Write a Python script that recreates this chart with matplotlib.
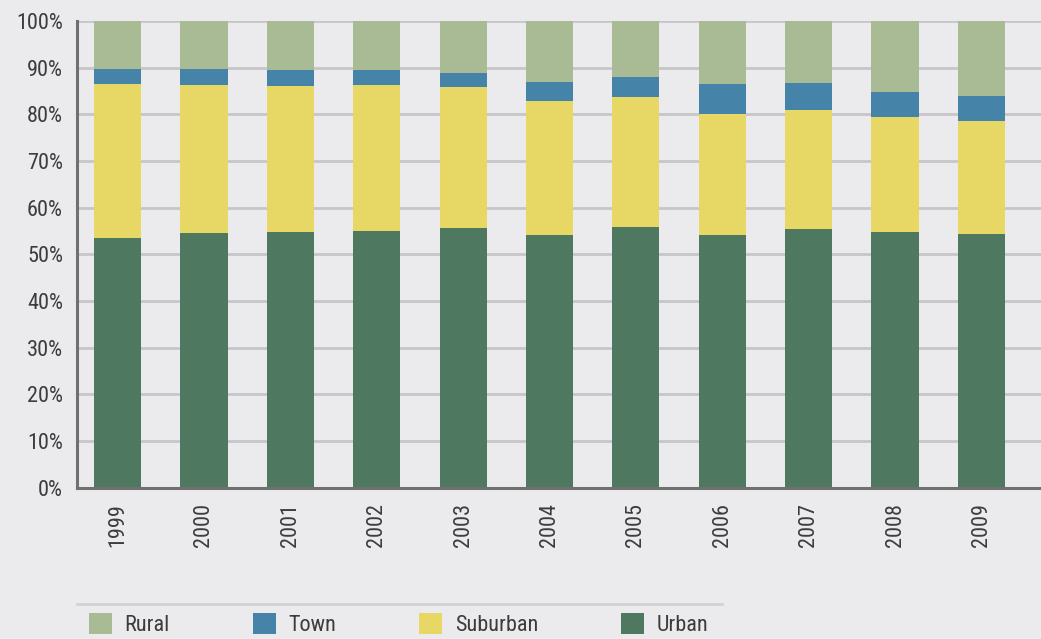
import numpy as np
import matplotlib.pyplot as plt
from matplotlib.lines import Line2D

plt.rcParams['font.family'] = ['Roboto Condensed', 'DejaVu Sans']

years = ["1999", "2000", "2001", "2002", "2003", "2004", "2005", "2006", "2007", "2008", "2009"]
# cumulative boundaries (percent)
urban = np.array([53.5, 54.6, 54.8, 55.0, 55.6, 54.2, 55.9, 54.1, 55.4, 54.8, 54.3])
upto_suburban = np.array([86.5, 86.3, 86.1, 86.3, 85.9, 82.9, 83.7, 80.1, 80.9, 79.4, 78.6])
upto_town = np.array([89.7, 89.7, 89.5, 89.5, 88.9, 86.9, 88.0, 86.5, 86.7, 84.8, 83.9])

suburban = upto_suburban - urban
town = upto_town - upto_suburban
rural = 100 - upto_town

bg = "#ebebed"
fig = plt.figure(figsize=(10.41, 6.39), dpi=100, facecolor=bg)
ax = fig.add_axes([77/1041, 1-487.7/639, 1-77/1041, (487.7-21)/639])
ax.set_facecolor(bg)

x = np.arange(len(years))
w = 0.545
b1 = ax.bar(x, urban/100, w, color="#4f7861", label="Urban", zorder=3)
b2 = ax.bar(x, suburban/100, w, bottom=urban/100, color="#e7d765", label="Suburban", zorder=3)
b3 = ax.bar(x, town/100, w, bottom=upto_suburban/100, color="#4583a9", label="Town", zorder=3)
b4 = ax.bar(x, rural/100, w, bottom=upto_town/100, color="#a9bb94", label="Rural", zorder=3)

ax.set_xlim(-0.47, 10.69)
ax.set_ylim(0, 1)
ax.set_yticks(np.arange(0, 1.01, 0.1))
ax.set_yticklabels([f"{int(v)}%" for v in np.arange(0, 101, 10)])
ax.set_xticks(x)
ax.set_xticklabels(years, rotation=90)
ax.tick_params(axis="y", length=0, pad=10, labelsize=16, labelcolor="#3c3c3c")
ax.tick_params(axis="x", length=0, pad=11, labelsize=16, labelcolor="#3c3c3c")
ax.yaxis.grid(True, color="#c6c6ca", linewidth=2, zorder=0)
ax.set_axisbelow(True)
for s in ["top", "right"]:
    ax.spines[s].set_visible(False)
for s in ["left", "bottom"]:
    ax.spines[s].set_color("#707070")
    ax.spines[s].set_linewidth(2.2)
    ax.spines[s].set_zorder(4)

fig.add_artist(Line2D([77/1041, 722/1041], [1-604/639, 1-604/639], color="#d2d2d6", linewidth=2))

fig.legend(handles=[b4, b3, b2, b1], loc="upper left", bbox_to_anchor=(80/1041, 1-604/639),
           ncol=4, frameon=False, fontsize=16, handlelength=1.05, handleheight=1.05,
           handletextpad=0.56, columnspacing=3.72, labelcolor="#3c3c3c", borderaxespad=0)

fig.savefig("out.png", dpi=100, facecolor=bg)
